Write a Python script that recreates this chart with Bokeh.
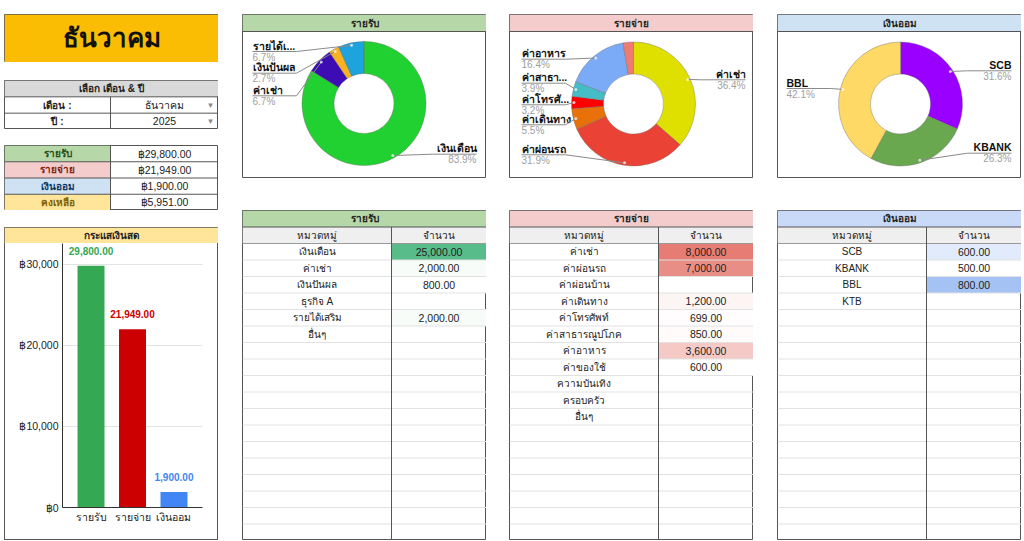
import math
from bokeh.plotting import figure
from bokeh.layouts import column, row
from bokeh.models import Range1d, Spacer, FixedTicker
from bokeh.core.properties import value
from bokeh.embed import file_html
from bokeh.resources import INLINE

# ---------------- data ----------------
month_name = "ธันวาคม"
year_value = "2025"

income_categories = ["เงินเดือน", "ค่าเช่า", "เงินปันผล", "ธุรกิจ A", "รายได้เสริม", "อื่นๆ"]
income_values = [25000, 2000, 800, None, 2000, None]
income_pie_labels = ["เงินเดือน", "ค่าเช่า", "เงินปันผล", None, "รายได้เ...", None]
income_colors = ["#21d131", "#3d0cb3", "#f9b320", "#999999", "#1ea3dc", "#999999"]

expense_categories = ["ค่าเช่า", "ค่าผ่อนรถ", "ค่าผ่อนบ้าน", "ค่าเดินทาง", "ค่าโทรศัพท์",
                      "ค่าสาธารณูปโภค", "ค่าอาหาร", "ค่าของใช้", "ความบันเทิง", "ครอบครัว", "อื่นๆ"]
expense_values = [8000, 7000, None, 1200, 699, 850, 3600, 600, None, None, None]
expense_pie_labels = ["ค่าเช่า", "ค่าผ่อนรถ", None, "ค่าเดินทาง", "ค่าโทรศั...", "ค่าสาธา...",
                      "ค่าอาหาร", None, None, None, None]
expense_colors = ["#e0e000", "#ea4335", "#999999", "#e8710a", "#ff0000", "#46bdc6",
                  "#7baaf7", "#f07b72", "#999999", "#999999", "#999999"]

savings_categories = ["SCB", "KBANK", "BBL", "KTB"]
savings_values = [600, 500, 800, None]
savings_pie_labels = ["SCB", "KBANK", "BBL", None]
savings_colors = ["#9900ff", "#6aa84f", "#ffd966", "#999999"]

summary_labels = ["รายรับ", "รายจ่าย", "เงินออม", "คงเหลือ"]
cash_categories = ["รายรับ", "รายจ่าย", "เงินออม"]
cash_colors = ["#34a853", "#cc0000", "#4285f4"]
y_ticks = [0, 10000, 20000, 30000]
y_tick_labels = ["฿0", "฿10,000", "฿20,000", "฿30,000"]

# -------------- derived --------------
def tot(vals):
    return sum(v for v in vals if v is not None)

total_income = tot(income_values)
total_expense = tot(expense_values)
total_savings = tot(savings_values)
balance = total_income - total_expense - total_savings
summary_values = [total_income, total_expense, total_savings, balance]
cash_values = [total_income, total_expense, total_savings]

FONT = "Liberation Sans"
DARK = "#555555"


def canvas(W, H, xr, yr):
    p = figure(width=W, height=H, x_range=xr, y_range=yr, output_backend="svg",
               toolbar_location=None, min_border=0, x_axis_type=None, y_axis_type=None)
    p.grid.visible = False
    p.background_fill_color = "white"
    p.border_fill_color = "white"
    p.outline_line_color = DARK
    return p


def txt(p, x, y, t, size="10px", color="#222222", align="center", bold=False, font=FONT):
    p.text(x=x, y=y, text=t, text_font=value(font), text_font_size=size,
           text_color=color, text_align=align, text_baseline="middle",
           text_font_style="bold" if bold else "normal")


def mix(c1, c2, t):
    a = [int(c1[i:i + 2], 16) for i in (1, 3, 5)]
    b = [int(c2[i:i + 2], 16) for i in (1, 3, 5)]
    return "#%02x%02x%02x" % tuple(round(a[k] + (b[k] - a[k]) * t) for k in range(3))


def line_spacer(w, h):
    return Spacer(width=w, height=h, styles={"background-color": DARK})


# ---------------- column 1 ----------------
W1 = 214
title_p = canvas(W1, 48, Range1d(0, W1), Range1d(0, 48))
title_p.rect(x=[W1 / 2], y=[24], width=W1, height=48, fill_color="#fbbc04", line_color=None)
txt(title_p, [W1 / 2], [25], [month_name], size="26px", color="#111111", bold=True)

SPL = 106
sel_p = canvas(W1, 49, Range1d(0, W1), Range1d(2.5, -0.5))
sel_p.rect(x=[W1 / 2], y=[0], width=W1, height=1, fill_color="#d9d9d9", line_color=None)
sel_p.segment(x0=[0, 0], x1=[W1, W1], y0=[0.5, 1.5], y1=[0.5, 1.5], line_color=DARK)
sel_p.segment(x0=[SPL], x1=[SPL], y0=[0.5], y1=[2.5], line_color=DARK)
txt(sel_p, [W1 / 2], [0], ["เลือก เดือน & ปี"], bold=True)
txt(sel_p, [SPL / 2, SPL / 2], [1, 2], ["เดือน :", "ปี :"], bold=True)
txt(sel_p, [(SPL + W1) / 2, (SPL + W1) / 2], [1, 2], [month_name, year_value], size="10.5px")
txt(sel_p, [206, 206], [1, 2], ["▾", "▾"], size="9px", color="#888888", font="DejaVu Sans")

sum_p = canvas(W1, 65, Range1d(0, W1), Range1d(3.5, -0.5))
sum_bg = ["#b6d7a8", "#f4cccc", "#cfe2f3", "#ffe599"]
sum_fg = ["#274e13", "#85200c", "#073763", "#7f6000"]
sum_p.rect(x=[SPL / 2] * 4, y=list(range(4)), width=SPL, height=1, fill_color=sum_bg, line_color=None)
sum_p.segment(x0=[0] * 3, x1=[W1] * 3, y0=[0.5, 1.5, 2.5], y1=[0.5, 1.5, 2.5], line_color=DARK)
sum_p.segment(x0=[SPL], x1=[SPL], y0=[-0.5], y1=[3.5], line_color=DARK)
for i in range(4):
    txt(sum_p, [SPL / 2], [i], [summary_labels[i]], color=sum_fg[i], bold=True)
txt(sum_p, [(SPL + W1) / 2] * 4, list(range(4)), ["฿{:,.2f}".format(v) for v in summary_values],
    size="10.5px")

cash_head = canvas(W1, 16, Range1d(0, W1), Range1d(0, 16))
cash_head.rect(x=[W1 / 2], y=[8], width=W1, height=16, fill_color="#ffe599", line_color=None)
txt(cash_head, [W1 / 2], [8], ["กระแสเงินสด"], bold=True)

CW, CH = W1 - 2, 296
cash = figure(width=CW, height=CH, x_range=Range1d(-0.687, 2.687), y_range=Range1d(0, 32526),
              output_backend="svg", toolbar_location=None,
              min_border_left=57, min_border_right=15, min_border_top=0, min_border_bottom=32)
cash.outline_line_color = None
cash.background_fill_color = "white"
cash.border_fill_color = "white"
xs = list(range(len(cash_categories)))
cash.vbar(x=xs, top=cash_values, width=0.65, fill_color=cash_colors, line_color=None)
cash.text(x=xs, y=cash_values, text=["{:,.2f}".format(v) for v in cash_values],
          text_font=value(FONT), text_font_size="10px", text_font_style="bold",
          text_color=cash_colors, text_align="center", text_baseline="bottom", y_offset=-11)
cash.yaxis.ticker = FixedTicker(ticks=y_ticks)
cash.ygrid.ticker = FixedTicker(ticks=y_ticks)
cash.yaxis.major_label_overrides = {t: l for t, l in zip(y_ticks, y_tick_labels)}
cash.xaxis.ticker = FixedTicker(ticks=xs)
cash.xaxis.major_label_overrides = {i: c for i, c in zip(xs, cash_categories)}
cash.xgrid.visible = False
cash.ygrid.grid_line_color = "#e3e3e3"
for ax in (cash.xaxis, cash.yaxis):
    ax.axis_line_color = "#333333"
    ax.axis_line_width = 1
    ax.major_tick_line_color = None
    ax.minor_tick_line_color = None
    ax.major_tick_out = 0
    ax.major_tick_in = 0
    ax.minor_tick_out = 0
    ax.major_label_text_font = FONT
    ax.major_label_text_font_size = "10.5px"
    ax.major_label_text_color = "#222222"
cash.yaxis.major_label_standoff = 4
cash.xaxis.major_label_standoff = 3

cash_block = column(row(line_spacer(1, CH), cash, line_spacer(1, CH), spacing=0),
                    line_spacer(W1, 1), spacing=0)

col1 = column(Spacer(height=14), title_p, Spacer(height=18), sel_p, Spacer(height=16), sum_p,
              Spacer(height=17), cash_head, cash_block, spacing=0)


# ---------------- pies ----------------
def pie_panel(title, hcolor, cats, vals, colors, labels, layout, cx, cy_top, lx, rx, W=244, H=164):
    p = canvas(W, H, Range1d(0, W), Range1d(0, H))
    p.rect(x=[W / 2], y=[H - 8.5], width=W, height=17, fill_color=hcolor, line_color=None)
    p.segment(x0=[0], x1=[W], y0=[H - 17], y1=[H - 17], line_color=DARK)
    txt(p, [W / 2], [H - 8.5], [title], bold=True)
    cy = H - cy_top
    idx = [i for i, v in enumerate(vals) if v]
    total = sum(vals[i] for i in idx)
    starts, ends, cum = [], [], 0.0
    for i in idx:
        starts.append(math.pi / 2 - 2 * math.pi * cum / total)
        cum += vals[i]
        ends.append(math.pi / 2 - 2 * math.pi * cum / total)
    p.annular_wedge(x=[cx] * len(idx), y=[cy] * len(idx), inner_radius=30, outer_radius=62,
                    start_angle=starts, end_angle=ends, direction="clock",
                    fill_color=[colors[i] for i in idx], line_color="#666666",
                    line_alpha=0.55, line_width=0.7)
    lxs, lys, dxs, dys = [], [], [], []
    for k, i in enumerate(idx):
        if labels[i] is None:
            continue
        side, ny = layout[cats[i]]
        mid = (starts[k] + ends[k]) / 2
        dx, dy = cx + 59.5 * math.cos(mid), cy + 59.5 * math.sin(mid)
        ly = H - (ny + 6)
        if side == "L":
            ox, ix, al = lx, lx + 44, "left"
        else:
            ox, ix, al = rx, rx - 44, "right"
        lxs.append([ox, ix, dx])
        lys.append([ly, ly, dy])
        dxs.append(dx)
        dys.append(dy)
        pct = "{:.1f}%".format(vals[i] / total * 100)
        txt(p, [ox], [H - ny], [labels[i]], size="10.5px", color="#111111", align=al, bold=True)
        txt(p, [ox], [H - ny - 11.5], [pct], color="#a0a0a0", align=al)
    p.multi_line(xs=lxs, ys=lys, line_color="#8a8a8a", line_width=1)
    p.scatter(x=dxs, y=dys, size=3, fill_color="white", fill_alpha=0.7, line_color=None)
    return p


income_layout = {"เงินเดือน": ("R", 133.7), "ค่าเช่า": ("L", 75.3),
                 "เงินปันผล": ("L", 52.7), "รายได้เสริม": ("L", 31)}
expense_layout = {"ค่าเช่า": ("R", 59.3), "ค่าผ่อนรถ": ("L", 134.3), "ค่าเดินทาง": ("L", 104.3),
                  "ค่าโทรศัพท์": ("L", 84.3), "ค่าสาธารณูปโภค": ("L", 62.7), "ค่าอาหาร": ("L", 38.7)}
savings_layout = {"SCB": ("R", 50.3), "KBANK": ("R", 132.7), "BBL": ("L", 68)}

pie_inc = pie_panel("รายรับ", "#b6d7a8", income_categories, income_values, income_colors,
                    income_pie_labels, income_layout, 121.5, 89, 10, 234)
pie_exp = pie_panel("รายจ่าย", "#f4cccc", expense_categories, expense_values, expense_colors,
                    expense_pie_labels, expense_layout, 124, 89.5, 12, 236)
pie_sav = pie_panel("เงินออม", "#cfe2f3", savings_categories, savings_values, savings_colors,
                    savings_pie_labels, savings_layout, 123, 89.5, 9, 234)


# ---------------- tables ----------------
def table_panel(title, hcolor, cats, vals, maxcolor, W=244, H=330, split=149, nrows=19):
    rh = 16.5
    p = canvas(W, H, Range1d(0, W), Range1d(-2.5 + H / rh, -2.5))
    p.rect(x=[W / 2], y=[-2], width=W, height=1, fill_color=hcolor, line_color=None)
    p.rect(x=[W / 2], y=[-1], width=W, height=1, fill_color="#efefef", line_color=None)
    nums = [v for v in vals if v is not None]
    lo, hi = min(nums), max(nums)
    rows_v = [i for i, v in enumerate(vals) if v is not None]
    p.rect(x=[(split + W) / 2] * len(rows_v), y=rows_v, width=W - split, height=1,
           fill_color=[mix("#ffffff", maxcolor, (vals[i] - lo) / (hi - lo)) for i in rows_v],
           line_color=None)
    ys = [r + 0.5 for r in range(0, nrows)]
    p.segment(x0=[0] * len(ys), x1=[W] * len(ys), y0=ys, y1=ys, line_color="#e2e2e2")
    p.segment(x0=[0], x1=[W], y0=[-0.5], y1=[-0.5], line_color="#9a9a9a")
    p.segment(x0=[0], x1=[W], y0=[-1.5], y1=[-1.5], line_color=DARK)
    p.segment(x0=[split], x1=[split], y0=[-1.5], y1=[nrows + 1], line_color=DARK)
    txt(p, [W / 2], [-2], [title], bold=True)
    txt(p, [split / 2, (split + W) / 2], [-1, -1], ["หมวดหมู่", "จำนวน"])
    txt(p, [split / 2] * len(cats), list(range(len(cats))), cats)
    txt(p, [(split + W) / 2] * len(rows_v), rows_v, ["{:,.2f}".format(vals[i]) for i in rows_v],
        size="10.5px")
    return p


tab_inc = table_panel("รายรับ", "#b6d7a8", income_categories, income_values, "#57bb8a")
tab_exp = table_panel("รายจ่าย", "#f4cccc", expense_categories, expense_values, "#e67c73")
tab_sav = table_panel("เงินออม", "#c9daf8", savings_categories, savings_values, "#a4c2f4")

col2 = column(Spacer(height=14), pie_inc, Spacer(height=32), tab_inc, spacing=0)
col3 = column(Spacer(height=14), pie_exp, Spacer(height=32), tab_exp, spacing=0)
col4 = column(Spacer(height=14), pie_sav, Spacer(height=32), tab_sav, spacing=0)

page = row(Spacer(width=4), col1, Spacer(width=24), col2, Spacer(width=23), col3,
           Spacer(width=24), col4, spacing=0)

open("out.html", "w").write(file_html(page, INLINE))
